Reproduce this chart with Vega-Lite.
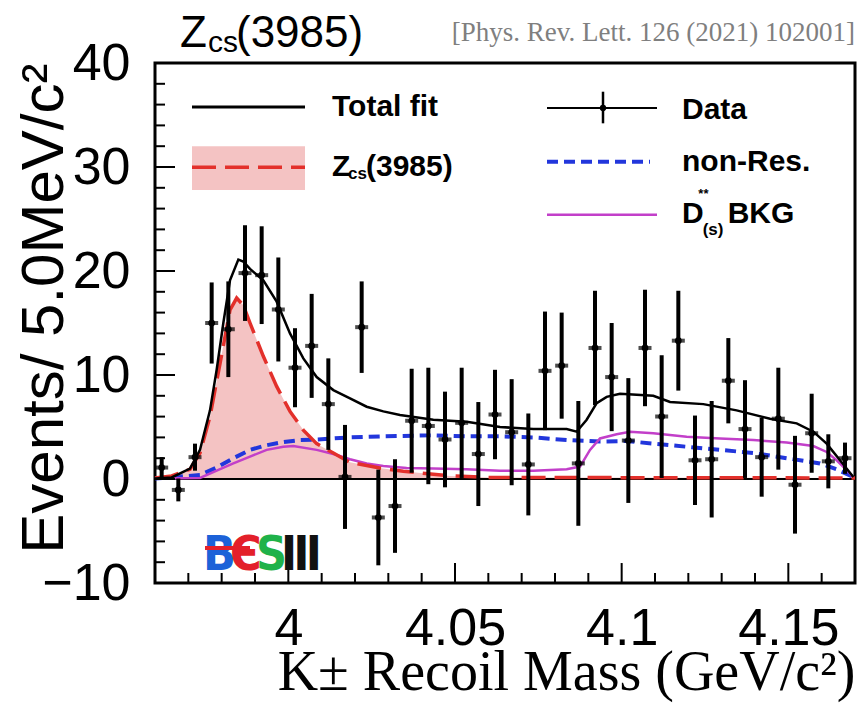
{
"$schema": "https://vega.github.io/schema/vega-lite/v6.json",
"width": 700, "height": 520,
"autosize": {"type": "none"},
"padding": {"left": 155, "top": 63, "right": 4, "bottom": 123},
"background": "white",
"config": {"view": {"stroke": "black", "strokeWidth": 3}, "font": "Liberation Sans"},
"datasets": {
"total": [
{"x":3.960,"y":0.05},{"x":3.965,"y":0.15},{"x":3.9705,"y":1.0},{"x":3.9735,"y":2.8},{"x":3.9765,"y":6.6},{"x":3.9785,"y":10.5},{"x":3.9805,"y":15.0},{"x":3.9825,"y":19.1},{"x":3.985,"y":21.1},{"x":3.9865,"y":20.9},{"x":3.9885,"y":20.2},{"x":3.9925,"y":19.1},{"x":3.9965,"y":17.05},{"x":4.0005,"y":14.0},{"x":4.0045,"y":11.6},{"x":4.0085,"y":9.8},{"x":4.0135,"y":8.55},{"x":4.0185,"y":7.75},{"x":4.0235,"y":6.95},{"x":4.0285,"y":6.5},{"x":4.0335,"y":6.15},{"x":4.0435,"y":5.7},{"x":4.0535,"y":5.5},{"x":4.0635,"y":5.0},{"x":4.0735,"y":4.8},{"x":4.0835,"y":4.8},{"x":4.0865,"y":4.55},{"x":4.0895,"y":5.7},{"x":4.0925,"y":7.3},{"x":4.0955,"y":7.9},{"x":4.0995,"y":8.2},{"x":4.1095,"y":8.0},{"x":4.1145,"y":7.4},{"x":4.1245,"y":7.2},{"x":4.1345,"y":6.6},{"x":4.1445,"y":5.8},{"x":4.1525,"y":5.35},{"x":4.1575,"y":4.55},{"x":4.1615,"y":3.4},{"x":4.1655,"y":1.8},{"x":4.1695,"y":0.2}
],
"zcs": [
{"x":3.960,"y":0.1},{"x":3.965,"y":0.3},{"x":3.9705,"y":0.93},{"x":3.9735,"y":2.5},{"x":3.9765,"y":6.0},{"x":3.9795,"y":11.1},{"x":3.9825,"y":16.25},{"x":3.9845,"y":17.4},{"x":3.9865,"y":16.7},{"x":3.9885,"y":15.0},{"x":3.9925,"y":11.8},{"x":3.9965,"y":8.9},{"x":4.0005,"y":6.5},{"x":4.0045,"y":4.7},{"x":4.0085,"y":3.4},{"x":4.0135,"y":2.5},{"x":4.0185,"y":1.6},{"x":4.0235,"y":1.3},{"x":4.0285,"y":1.0},{"x":4.0345,"y":0.75},{"x":4.0485,"y":0.3},{"x":4.06,"y":0.15},{"x":4.17,"y":0.1}
],
"nonres": [
{"x":3.960,"y":0.05},{"x":3.9735,"y":0.38},{"x":3.9785,"y":1.1},{"x":3.9835,"y":2.0},{"x":3.9885,"y":2.8},{"x":3.9935,"y":3.25},{"x":3.9985,"y":3.55},{"x":4.0035,"y":3.75},{"x":4.0085,"y":3.8},{"x":4.0135,"y":3.9},{"x":4.0185,"y":4.0},{"x":4.0285,"y":4.1},{"x":4.0435,"y":4.2},{"x":4.0535,"y":4.1},{"x":4.0635,"y":4.1},{"x":4.0735,"y":4.0},{"x":4.0835,"y":3.75},{"x":4.0935,"y":3.6},{"x":4.1015,"y":3.65},{"x":4.1095,"y":3.4},{"x":4.1195,"y":3.1},{"x":4.1295,"y":2.8},{"x":4.1395,"y":2.5},{"x":4.1495,"y":2.0},{"x":4.1595,"y":1.5},{"x":4.1645,"y":0.93},{"x":4.1695,"y":0.2}
],
"dss": [
{"x":3.960,"y":0.05},{"x":3.9735,"y":0.1},{"x":3.9785,"y":0.8},{"x":3.9835,"y":1.5},{"x":3.9885,"y":2.15},{"x":3.9935,"y":2.8},{"x":3.9985,"y":3.1},{"x":4.0015,"y":3.17},{"x":4.0085,"y":2.8},{"x":4.0135,"y":2.4},{"x":4.0185,"y":1.9},{"x":4.0235,"y":1.5},{"x":4.0285,"y":1.25},{"x":4.0355,"y":1.05},{"x":4.0435,"y":1.0},{"x":4.0535,"y":0.93},{"x":4.0635,"y":0.8},{"x":4.0735,"y":0.8},{"x":4.0835,"y":0.93},{"x":4.0875,"y":1.2},{"x":4.0905,"y":2.8},{"x":4.0935,"y":3.9},{"x":4.0985,"y":4.3},{"x":4.1025,"y":4.55},{"x":4.1095,"y":4.4},{"x":4.1195,"y":4.07},{"x":4.1295,"y":3.9},{"x":4.1395,"y":3.75},{"x":4.1495,"y":3.5},{"x":4.1575,"y":3.17},{"x":4.1615,"y":2.6},{"x":4.1645,"y":1.8},{"x":4.1685,"y":0.55},{"x":4.1695,"y":0.1}
],
"points": [
{"x":3.962,"y":1.1,"e":1.0},{"x":3.967,"y":-1.05,"e":1.1},{"x":3.972,"y":2.1,"e":1.3},{"x":3.977,"y":15.0,"e":3.9},{"x":3.982,"y":14.4,"e":4.6},{"x":3.987,"y":19.8,"e":4.6},{"x":3.992,"y":19.6,"e":4.7},{"x":3.997,"y":16.3,"e":5.0},{"x":4.002,"y":10.7,"e":3.8},{"x":4.007,"y":12.8,"e":5.0},{"x":4.012,"y":7.2,"e":4.4},{"x":4.017,"y":0.2,"e":5.0},{"x":4.022,"y":14.6,"e":4.4},{"x":4.027,"y":-3.7,"e":4.6},{"x":4.032,"y":-2.6,"e":4.5},{"x":4.037,"y":5.6,"e":5.0},{"x":4.042,"y":5.1,"e":5.6},{"x":4.047,"y":3.8,"e":4.6},{"x":4.052,"y":5.4,"e":5.3},{"x":4.057,"y":2.4,"e":5.0},{"x":4.062,"y":6.2,"e":4.3},{"x":4.067,"y":4.5,"e":5.1},{"x":4.072,"y":1.4,"e":4.9},{"x":4.077,"y":10.4,"e":5.7},{"x":4.082,"y":10.9,"e":5.1},{"x":4.087,"y":1.5,"e":6.0},{"x":4.092,"y":12.6,"e":5.5},{"x":4.097,"y":9.8,"e":5.2},{"x":4.102,"y":3.7,"e":6.0},{"x":4.107,"y":12.6,"e":5.6},{"x":4.112,"y":6.0,"e":5.9},{"x":4.117,"y":13.3,"e":4.8},{"x":4.122,"y":1.8,"e":4.3},{"x":4.127,"y":1.9,"e":5.6},{"x":4.132,"y":9.45,"e":4.1},{"x":4.137,"y":4.8,"e":4.7},{"x":4.142,"y":2.1,"e":3.8},{"x":4.147,"y":5.8,"e":4.9},{"x":4.152,"y":-0.55,"e":4.7},{"x":4.157,"y":4.4,"e":3.8},{"x":4.162,"y":1.7,"e":2.6},{"x":4.167,"y":2.0,"e":1.5}
],
"xticks": [{"x":4.0,"y":-10,"y2":-8.08},{"x":4.05,"y":-10,"y2":-8.08},{"x":4.1,"y":-10,"y2":-8.08},{"x":4.15,"y":-10,"y2":-8.08},
{"x":3.97,"y":-10,"y2":-9.04},{"x":3.98,"y":-10,"y2":-9.04},{"x":3.99,"y":-10,"y2":-9.04},{"x":4.01,"y":-10,"y2":-9.04},{"x":4.02,"y":-10,"y2":-9.04},{"x":4.03,"y":-10,"y2":-9.04},{"x":4.04,"y":-10,"y2":-9.04},{"x":4.06,"y":-10,"y2":-9.04},{"x":4.07,"y":-10,"y2":-9.04},{"x":4.08,"y":-10,"y2":-9.04},{"x":4.09,"y":-10,"y2":-9.04},{"x":4.11,"y":-10,"y2":-9.04},{"x":4.12,"y":-10,"y2":-9.04},{"x":4.13,"y":-10,"y2":-9.04},{"x":4.14,"y":-10,"y2":-9.04},{"x":4.16,"y":-10,"y2":-9.04}],
"yticks": [{"x":3.96,"x2":3.966,"y":0},{"x":3.96,"x2":3.966,"y":10},{"x":3.96,"x2":3.966,"y":20},{"x":3.96,"x2":3.966,"y":30},
{"x":3.96,"x2":3.963,"y":-8},{"x":3.96,"x2":3.963,"y":-6},{"x":3.96,"x2":3.963,"y":-4},{"x":3.96,"x2":3.963,"y":-2},{"x":3.96,"x2":3.963,"y":2},{"x":3.96,"x2":3.963,"y":4},{"x":3.96,"x2":3.963,"y":6},{"x":3.96,"x2":3.963,"y":8},{"x":3.96,"x2":3.963,"y":12},{"x":3.96,"x2":3.963,"y":14},{"x":3.96,"x2":3.963,"y":16},{"x":3.96,"x2":3.963,"y":18},{"x":3.96,"x2":3.963,"y":22},{"x":3.96,"x2":3.963,"y":24},{"x":3.96,"x2":3.963,"y":26},{"x":3.96,"x2":3.963,"y":28},{"x":3.96,"x2":3.963,"y":32},{"x":3.96,"x2":3.963,"y":34},{"x":3.96,"x2":3.963,"y":36},{"x":3.96,"x2":3.963,"y":38}]
},
"encoding": {
"x": {"field": "x", "type": "quantitative", "scale": {"domain": [3.96, 4.17], "nice": false, "zero": false}, "axis": null},
"y": {"field": "y", "type": "quantitative", "scale": {"domain": [-10, 40], "nice": false, "zero": false}, "axis": null}
},
"layer": [
{"data": {"name": "zcs"},
 "mark": {"type": "area", "color": "#f4c3c3", "opacity": 1},
 "encoding": {
  "x": {"field": "x", "type": "quantitative", "scale": {"domain": [3.96, 4.17], "nice": false, "zero": false},
        "axis": {"orient": "bottom", "values": [4, 4.05, 4.1, 4.15], "format": "~g", "domain": false, "grid": false, "ticks": false, "labelFont": "Liberation Sans", "labelFontSize": 52, "labelColor": "black", "labelPadding": 20, "labelFlush": false, "labelOverlap": false, "labelBound": false, "title": "K± Recoil Mass (GeV/c²)", "titleFont": "Liberation Serif", "titleFontSize": 56, "titleFontWeight": "normal", "titleColor": "black", "titleAnchor": "end", "titleBaseline": "alphabetic", "titlePadding": 35}},
  "y": {"field": "y", "type": "quantitative", "scale": {"domain": [-10, 40], "nice": false, "zero": false},
        "axis": {"orient": "left", "values": [-10, 0, 10, 20, 30, 40], "format": "d", "domain": false, "grid": false, "ticks": false, "labelFont": "Liberation Sans", "labelFontSize": 52, "labelColor": "black", "labelPadding": 25, "labelFlush": false, "labelOverlap": false, "labelBound": false, "title": "Events/ 5.0MeV/c²", "titleFont": "Liberation Sans", "titleFontSize": 60, "titleFontWeight": "normal", "titleColor": "black", "titleAnchor": "end", "titlePadding": -34}},
  "y2": {"datum": 0}
 }},
{"data": {"values": [{"x": 3.96, "y": 0}, {"x": 4.17, "y": 0}]},
 "mark": {"type": "line", "color": "black", "strokeWidth": 2}},
{"data": {"name": "nonres"},
 "mark": {"type": "line", "color": "#2236dc", "strokeWidth": 4, "strokeDash": [11, 6]}},
{"data": {"name": "dss"},
 "mark": {"type": "line", "color": "#c23fc9", "strokeWidth": 2.5}},
{"data": {"name": "zcs"},
 "mark": {"type": "line", "color": "#e3302b", "strokeWidth": 3.5, "strokeDash": [24, 9]}},
{"data": {"name": "total"},
 "mark": {"type": "line", "color": "black", "strokeWidth": 2.5}},
{"data": {"name": "points"},
 "mark": {"type": "errorbar", "ticks": false, "thickness": 4, "color": "black"},
 "encoding": {"yError": {"field": "e"}}},
{"data": {"name": "points"},
 "mark": {"type": "tick", "orient": "horizontal", "size": 13, "thickness": 4, "color": "black"}},
{"data": {"name": "points"},
 "mark": {"type": "circle", "size": 45, "color": "black", "opacity": 1}},
{"data": {"name": "xticks"},
 "mark": {"type": "rule", "color": "black", "strokeWidth": 2},
 "encoding": {"y2": {"field": "y2"}}},
{"data": {"name": "yticks"},
 "mark": {"type": "rule", "color": "black", "strokeWidth": 2},
 "encoding": {"x2": {"field": "x2"}}},
{"data": {"values": [{"x": 3.9711, "x2": 4.0050, "y": 27.8, "y2": 32.0}]},
 "mark": {"type": "rect", "color": "#f4c3c3"},
 "encoding": {"x2": {"field": "x2"}, "y2": {"field": "y2"}}},
{"data": {"values": [{"x": 3.9711, "x2": 4.0050, "y": 35.77}]},
 "mark": {"type": "rule", "color": "black", "strokeWidth": 3},
 "encoding": {"x2": {"field": "x2"}}},
{"data": {"values": [{"x": 3.9711, "x2": 4.0050, "y": 29.97}]},
 "mark": {"type": "rule", "color": "#e3302b", "strokeWidth": 3.5, "strokeDash": [24, 9]},
 "encoding": {"x2": {"field": "x2"}}},
{"data": {"values": [{"x": 4.0776, "x2": 4.1106, "y": 35.67}]},
 "mark": {"type": "rule", "color": "black", "strokeWidth": 2},
 "encoding": {"x2": {"field": "x2"}}},
{"data": {"values": [{"x": 4.0944, "y": 34.2, "y2": 37.24}]},
 "mark": {"type": "rule", "color": "black", "strokeWidth": 2.5},
 "encoding": {"y2": {"field": "y2"}}},
{"data": {"values": [{"x": 4.0944, "y": 35.67}]},
 "mark": {"type": "circle", "size": 40, "color": "black", "opacity": 1}},
{"data": {"values": [{"x": 4.0776, "x2": 4.1085, "y": 30.5}]},
 "mark": {"type": "rule", "color": "#2236dc", "strokeWidth": 4, "strokeDash": [11, 6]},
 "encoding": {"x2": {"field": "x2"}}},
{"data": {"values": [{"x": 4.0776, "x2": 4.1106, "y": 25.4}]},
 "mark": {"type": "rule", "color": "#c23fc9", "strokeWidth": 2.5},
 "encoding": {"x2": {"field": "x2"}}},
{"data": {"values": [{"x": 4.0131, "y": 35.8, "t": "Total fit"}, {"x": 4.1181, "y": 35.5, "t": "Data"}, {"x": 4.1181, "y": 30.5, "t": "non-Res."}, {"x": 4.0131, "y": 30.0, "t": "Z"}, {"x": 4.0233, "y": 30.0, "t": "(3985)"}, {"x": 4.1181, "y": 25.5, "t": "D"}, {"x": 4.1318, "y": 25.5, "t": "BKG"}]},
 "mark": {"type": "text", "align": "left", "baseline": "middle", "fontSize": 30, "fontWeight": "bold", "font": "Liberation Sans", "color": "black"},
 "encoding": {"text": {"field": "t"}}},
{"data": {"values": [{"x": 4.0179, "y": 29.3, "t": "cs"}, {"x": 4.1243, "y": 23.9, "t": "(s)"}]},
 "mark": {"type": "text", "align": "left", "baseline": "middle", "fontSize": 17, "fontWeight": "bold", "font": "Liberation Sans", "color": "black"},
 "encoding": {"text": {"field": "t"}}},
{"data": {"values": [{"x": 4.123, "y": 27.4, "t": "**"}]},
 "mark": {"type": "text", "align": "left", "baseline": "middle", "fontSize": 13, "fontWeight": "bold", "font": "Liberation Sans", "color": "black"},
 "encoding": {"text": {"field": "t"}}},
{"data": {"values": [{"x": 3.9675, "y": 41.57, "t": "Z"}, {"x": 3.9843, "y": 41.57, "t": "(3985)"}]},
 "mark": {"type": "text", "align": "left", "baseline": "alphabetic", "fontSize": 44, "font": "Liberation Sans", "color": "black"},
 "encoding": {"text": {"field": "t"}}},
{"data": {"values": [{"x": 3.9759, "y": 41.06, "t": "cs"}]},
 "mark": {"type": "text", "align": "left", "baseline": "alphabetic", "fontSize": 30, "font": "Liberation Sans", "color": "black"},
 "encoding": {"text": {"field": "t"}}},
{"data": {"values": [{"x": 4.17, "y": 42.1, "t": "[Phys. Rev. Lett. 126 (2021) 102001]"}]},
 "mark": {"type": "text", "align": "right", "baseline": "alphabetic", "fontSize": 27, "font": "Liberation Serif", "color": "#7f7f7f"},
 "encoding": {"text": {"field": "t"}}},
{"data": {"values": [{"x": 3.9744, "y": -8.75, "l": "B"}, {"x": 3.9825, "y": -8.75, "l": "Є"}, {"x": 3.9903, "y": -8.75, "l": "S"}, {"x": 3.9978, "y": -8.75, "l": "Ⅲ"}]},
 "mark": {"type": "text", "align": "left", "baseline": "alphabetic", "fontSize": 48, "fontWeight": "bold", "font": "Liberation Sans Narrow, DejaVu Sans Condensed, Liberation Sans"},
 "encoding": {"text": {"field": "l"}, "color": {"field": "l", "type": "nominal", "scale": {"domain": ["B", "Є", "S", "Ⅲ"], "range": ["#1c62d8", "#e3202a", "#1fb24a", "#111111"]}, "legend": null}}},
{"data": {"values": [{"x": 3.975, "x2": 3.9885, "y": -6.63}]},
 "mark": {"type": "rule", "color": "#e3202a", "strokeWidth": 4},
 "encoding": {"x2": {"field": "x2"}}}
],
"resolve": {"axis": {"x": "independent", "y": "independent"}}
}
